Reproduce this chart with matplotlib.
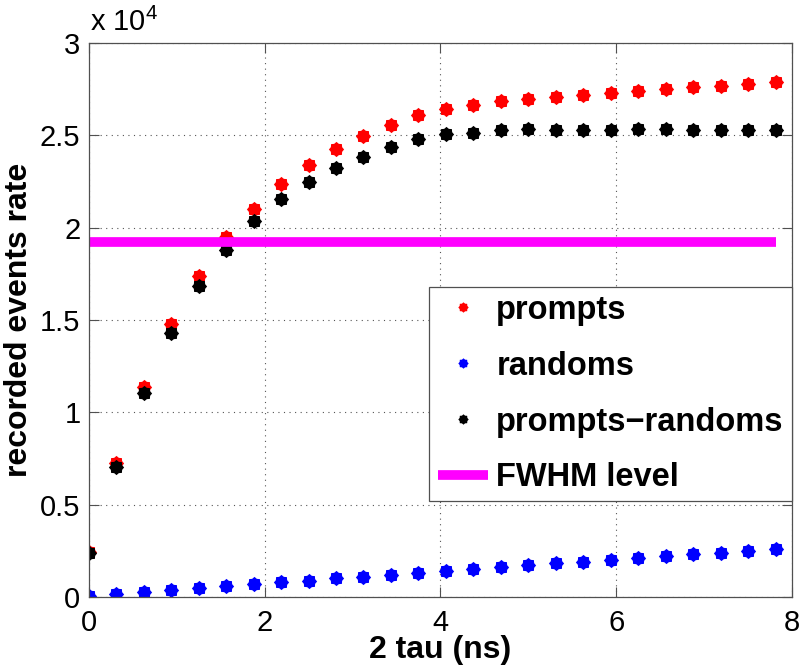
import numpy as np
import matplotlib
matplotlib.use("Agg")
import matplotlib.pyplot as plt
from matplotlib.path import Path
from matplotlib.lines import Line2D

plt.rcParams['font.family'] = ['Liberation Sans', 'DejaVu Sans']
plt.rcParams['mathtext.fontset'] = 'custom'
plt.rcParams['mathtext.rm'] = 'Liberation Sans'
plt.rcParams['mathtext.it'] = 'Liberation Sans'

# ---- data ----
tau2 = [i * 0.3125 for i in range(26)]
prompts = [2440, 7260, 11380, 14790, 17390, 19500, 21000, 22370, 23400, 24270,
           24970, 25570, 26110, 26440, 26650, 26870, 26980, 27090, 27190, 27300,
           27410, 27520, 27630, 27650, 27790, 27900]
randoms = [50, 160, 270, 380, 490, 600, 700, 810, 870, 1030,
           1080, 1190, 1300, 1410, 1520, 1620, 1730, 1840, 1900, 2000,
           2110, 2220, 2330, 2380, 2490, 2600]
prompts_minus_randoms = [2390, 7040, 11050, 14300, 16850, 18800, 20370, 21560, 22480, 23240,
                         23840, 24380, 24810, 25080, 25140, 25300, 25350, 25300, 25300, 25300,
                         25350, 25350, 25300, 25300, 25300, 25300]
fwhm_level = 19230
yticks = [0, 5000, 10000, 15000, 20000, 25000, 30000]
ytick_labels = ['0', '0.5', '1', '1.5', '2', '2.5', '3']
xticks = [0, 2, 4, 6, 8]
labels = ['prompts', 'randoms', 'prompts\u2212randoms', 'FWHM level']

# ---- marker shape (hexagram-like blob) ----
n = 8
ang = np.linspace(0, 2 * np.pi, 2 * n, endpoint=False) + np.pi / 2
rad = np.where(np.arange(2 * n) % 2 == 0, 1.0, 0.80)
verts = np.column_stack([rad * np.cos(ang), rad * np.sin(ang)])
verts = np.vstack([verts, verts[:1]])
star = Path(verts, closed=True)

fig = plt.figure(figsize=(8.0, 6.71), dpi=100)
ax = fig.add_axes([0.111, 0.1103, 0.879, 0.8256])

ms = 11
ax.plot(tau2, prompts, linestyle='none', marker=star, ms=ms, color='#ff0000', mew=0)
ax.plot(tau2, randoms, linestyle='none', marker=star, ms=ms, color='#0000ff', mew=0)
ax.plot(tau2, prompts_minus_randoms, linestyle='none', marker=star, ms=ms, color='black', mew=0)
ax.plot([tau2[0], tau2[-1]], [fwhm_level, fwhm_level], color='#ff00ff', lw=7, solid_capstyle='butt')

ax.set_xlim(0, 8)
ax.set_ylim(0, 30000)
ax.set_xticks(xticks)
ax.set_xticklabels([str(t) for t in xticks])
ax.set_yticks(yticks)
ax.set_yticklabels(ytick_labels)

ax.grid(True, color='#555555', linestyle=(0, (1, 4)), lw=0.8)
ax.tick_params(direction='in', top=True, right=True, length=7, width=0.8,
               labelsize=21, colors='#505050', labelcolor='black')
ax.tick_params(axis='x', pad=9)
ax.tick_params(axis='y', pad=6)
for s in ax.spines.values():
    s.set_color('#505050')
    s.set_linewidth(0.9)

ax.set_xlabel('2 tau (ns)', fontsize=23, fontweight='bold', labelpad=-2)
ax.set_ylabel('recorded events rate', fontsize=23, fontweight='bold', labelpad=4)

fig.text(0.113, 0.945, 'x 10$^{4}$', fontsize=21, ha='left', va='bottom')

handles = [
    Line2D([], [], linestyle='none', marker=star, ms=7.5, color='#ff0000', mew=0),
    Line2D([], [], linestyle='none', marker=star, ms=7.5, color='#0000ff', mew=0),
    Line2D([], [], linestyle='none', marker=star, ms=7.5, color='black', mew=0),
    Line2D([], [], color='#ff00ff', lw=7, solid_capstyle='butt'),
]
leg = ax.legend(handles, labels, loc='upper right', bbox_to_anchor=(1.0, 0.56),
                borderaxespad=0, prop={'size': 23.5, 'weight': 'bold'},
                handlelength=1.55, handletextpad=0.25, labelspacing=0.76,
                borderpad=0.25, fancybox=False, framealpha=1, edgecolor='#505050')
leg.get_frame().set_linewidth(0.9)

fig.savefig('out.png', dpi=100)
